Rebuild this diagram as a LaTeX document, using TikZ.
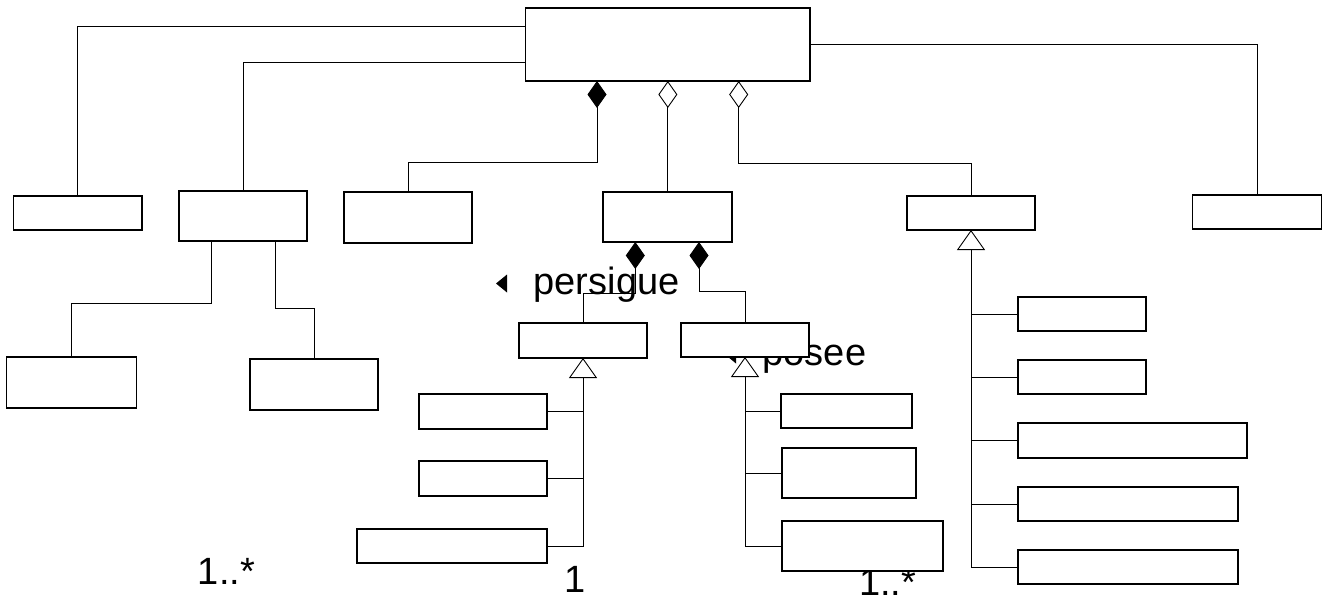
\documentclass[tikz,border=0pt]{standalone}
\usepackage{fontspec}
\setmainfont{Liberation Sans}
\usetikzlibrary{arrows.meta}
\tikzset{
  cls/.style={draw, fill=white, line width=1.4pt, inner sep=0pt, outer sep=0pt},
  conn/.style={line width=0.9pt},
  lbl/.style={inner sep=0pt, anchor=base west, font=\fontsize{38}{44}\selectfont},
  comp/.style={{Diamond[length=27pt,width=19pt,fill=black]}-},
  aggr/.style={{Diamond[length=27pt,width=19pt,fill=white]}-},
  gen/.style={{Triangle[length=20pt,width=28pt,fill=white]}-},
}
\begin{document}
\begin{tikzpicture}[x=1pt,y=-1pt]
\useasboundingbox (0,0) rectangle (1332,596);

% labels (drawn first, partly covered by boxes)
\node[lbl] (lp) at (533.5,294.3) {persigue};
\node[lbl] (lpo) at (762.5,365) {posee};
\node[lbl] (m1) at (197.7,584) {1..*};
\node[lbl] (m2) at (564,592) {1};
\node[lbl] (m3) at (859,595) {1..*};
\fill (496,283.5) -- (507,274.5) -- (507,292.5) -- cycle;
\fill (725,354.5) -- (736,345.5) -- (736,363.5) -- cycle;

% classes
\node[cls, minimum width=284.3pt, minimum height=73pt] (T) at (667.85,44.5) {};
\node[cls, minimum width=128.4pt, minimum height=34pt] (A) at (77.8,213) {};
\node[cls, minimum width=128pt, minimum height=50pt] (B) at (243,216) {};
\node[cls, minimum width=128pt, minimum height=51pt] (C) at (408,217.5) {};
\node[cls, minimum width=129pt, minimum height=50pt] (D) at (667.5,217) {};
\node[cls, minimum width=128pt, minimum height=34pt] (E) at (971,213) {};
\node[cls, minimum width=128.5pt, minimum height=34pt] (F) at (1257,212) {};
\node[cls, minimum width=130pt, minimum height=51pt] (G) at (71.7,382.5) {};
\node[cls, minimum width=128pt, minimum height=51pt] (H) at (314,384.5) {};
\node[cls, minimum width=128pt, minimum height=35pt] (I) at (583,340.5) {};
\node[cls, minimum width=128pt, minimum height=34pt] (J) at (745,340) {};
\node[cls, minimum width=128pt, minimum height=35pt] (L1) at (483,411.5) {};
\node[cls, minimum width=128pt, minimum height=35pt] (L2) at (483,478.5) {};
\node[cls, minimum width=190pt, minimum height=34pt] (L3) at (452,546) {};
\node[cls, minimum width=131pt, minimum height=34pt] (M1) at (846.5,411) {};
\node[cls, minimum width=134pt, minimum height=50pt] (M2) at (849,473) {};
\node[cls, minimum width=161pt, minimum height=50pt] (M3) at (862.5,546) {};
\node[cls, minimum width=128pt, minimum height=34pt] (N1) at (1082,314) {};
\node[cls, minimum width=128pt, minimum height=34pt] (N2) at (1082,377) {};
\node[cls, minimum width=229pt, minimum height=35pt] (N3) at (1132.5,440.5) {};
\node[cls, minimum width=220pt, minimum height=34pt] (N4) at (1128,504) {};
\node[cls, minimum width=220pt, minimum height=34pt] (N5) at (1128,567) {};

% associations from the top class
\draw[conn] ([yshift=-18pt]T.north west) -| (A.north);
\draw[conn] ([yshift=-54pt]T.north west) -| (B.north);
\draw[conn] ([yshift=-36pt]T.north east) -| (F.north);
\draw[conn,comp] ([xshift=-70.85pt]T.south) -- ++(0,81) -| (C.north);
\draw[conn,aggr] (T.south) -- (T.south |- D.north);
\draw[conn,aggr] ([xshift=70.85pt]T.south) -- ++(0,82.7) -| (E.north);

% B children
\draw[conn] ([xshift=-32pt]B.south) -- ++(0,62) -| (G.north);
\draw[conn] ([xshift=32pt]B.south) -- ++(0,67) -| (H.north);

% D compositions
\draw[conn,comp] ([xshift=-32.2pt]D.south) -- ++(0,51) -| (I.north);
\draw[conn,comp] ([xshift=31.5pt]D.south) -- ++(0,49.7) -| (J.north);

% generalisations under I
\draw[conn,gen] (I.south) |- (L3.east);
\draw[conn] (L1.east) -- (L1.east -| I.south);
\draw[conn] (L2.east) -- (L2.east -| I.south);

% generalisations under J
\draw[conn,gen] (J.south) |- (M3.west);
\draw[conn] (M1.west) -- (M1.west -| J.south);
\draw[conn] (M2.west) -- (M2.west -| J.south);

% generalisations under E
\draw[conn,gen] (E.south) |- (N5.west);
\draw[conn] (N1.west) -- (N1.west -| E.south);
\draw[conn] (N2.west) -- (N2.west -| E.south);
\draw[conn] (N3.west) -- (N3.west -| E.south);
\draw[conn] (N4.west) -- (N4.west -| E.south);
\end{tikzpicture}
\end{document}
